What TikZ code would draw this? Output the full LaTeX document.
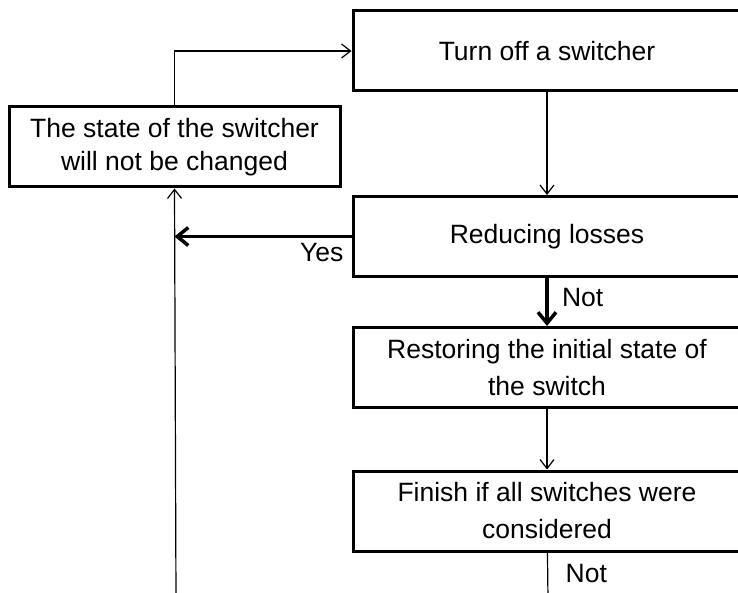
\documentclass[tikz,border=0pt]{standalone}
\usepackage{fontspec}
\setmainfont{Liberation Sans}
\usetikzlibrary{arrows.meta,positioning}

\begin{document}
\begin{tikzpicture}[x=1pt,y=-1pt,
                    >={Straight Barb[length=9pt,width=14pt]},
                    every node/.style={font=\fontsize{26.5}{37}\selectfont},
                    flowbox/.style={draw,line width=3pt,align=center,
                                    minimum width=388pt,minimum height=80pt},
                    link/.style={->,line width=1.2pt},
                    boldlink/.style={-{Straight Barb[length=11pt,width=18pt]},
                                     line width=3.5pt}]
  \useasboundingbox (0,0) rectangle (738,593);

  \node[flowbox] (turnoff) at (547,51)    {Turn off a switcher};
  \node[flowbox,minimum width=331pt,font=\fontsize{26.5}{33}\selectfont]
                 (keep)    at (174.5,147) {The state of the switcher\\will not be changed};
  \node[flowbox] (reduce)  at (547,236.5) {Reducing losses};
  \node[flowbox] (restore) at (547,367.5) {Restoring the initial state of\\the switch};
  \node[flowbox] (finish)  at (547,511)   {Finish if all switches were\\considered};

  \coordinate (loopin) at (176,600);
  \coordinate (finout) at (548,600);

  \draw[link] (turnoff) -- (reduce);
  \draw[link] (keep.north) |- (turnoff.west);
  \draw[link] (loopin) -- (keep.south);
  \draw[boldlink] (reduce.west) -- (reduce.west -| keep.south)
        node[pos=0,below left=2pt and 3pt] {Yes};
  \draw[boldlink] (reduce) -- node[right=10pt,pos=0.4] {Not} (restore);
  \draw[line width=1.2pt] (finish) -- node[right=14pt,pos=0.45] {Not} (finout);
  \draw[link] (restore) -- (finish);
\end{tikzpicture}
\end{document}
